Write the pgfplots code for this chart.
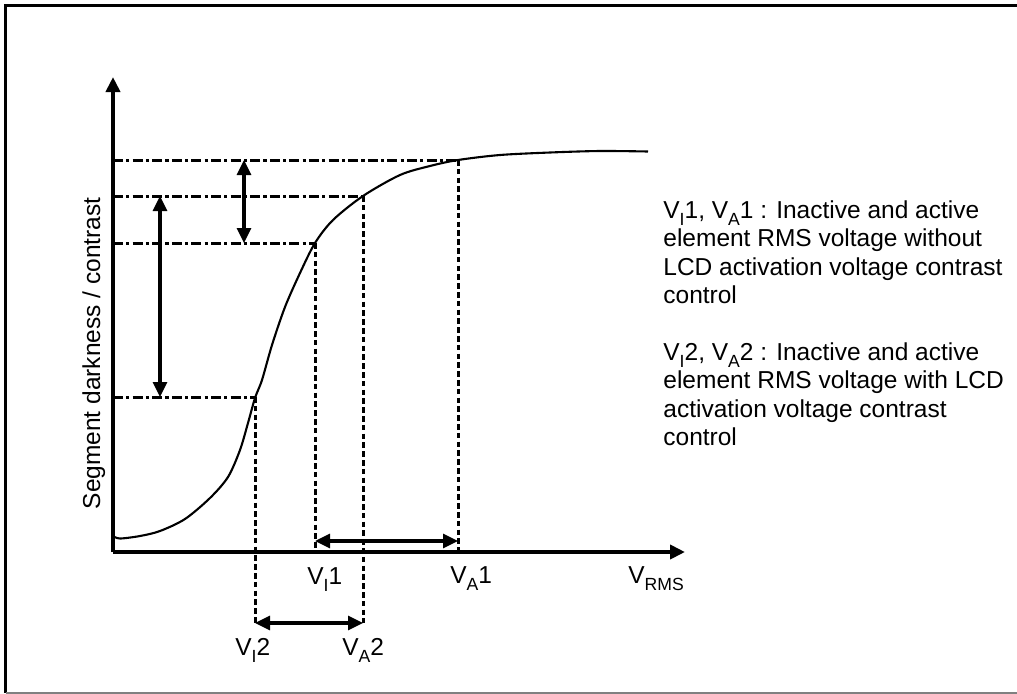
\documentclass[border=0pt]{standalone}
\usepackage{fontspec}
\setmainfont{Liberation Sans}
\usepackage{pgfplots}
\pgfplotsset{compat=1.18}
\usetikzlibrary{arrows.meta}
\newcommand\lbl{\fontsize{12.25}{14.25}\selectfont}
\newcommand\sub[1]{\raisebox{-3.6pt}{\fontsize{8.8}{9}\selectfont #1}}
\begin{document}
\begin{tikzpicture}
\begin{axis}[
  scale only axis, width=508.5pt, height=346.5pt,
  xmin=-113, xmax=904, ymin=-141, ymax=552,
  hide axis, clip=false,
  dd/.style={black, line width=1.5pt, dash pattern=on 5pt off 1.6pt on 1.6pt off 1.6pt},
  dsh/.style={black, line width=1.5pt, dash pattern=on 2.8pt off 1.6pt},
  arr/.style={black, line width=1.6pt, {Triangle[length=7.5pt,width=7pt]}-{Triangle[length=7.5pt,width=7pt]}},
]
% frame
\addplot[black, line width=1.6pt, line join=miter] coordinates {(904,546.5) (-107.5,546.5) (-107.5,-140.5)};
\addplot[gray, line width=1pt] coordinates {(-107.5,-140.5) (904,-140.5)};
% guide lines (dash-dot horizontals)
\addplot[dd] coordinates {(0,392) (345,392)};
\addplot[dd] coordinates {(0,356) (250,356)};
\addplot[dd] coordinates {(0,309) (202,309)};
\addplot[dd] coordinates {(0,155) (142,155)};
% dashed verticals
\addplot[dsh] coordinates {(345,392) (345,0)};
\addplot[dsh] coordinates {(202,309) (202,0)};
\addplot[dsh] coordinates {(250,356) (250,-71)};
\addplot[dsh] coordinates {(142,155) (142,-71)};
% curve
\addplot[black, line width=1.05pt, smooth, tension=0.5] coordinates {
(0,16) (7,13.5) (27,16) (47,21) (72,33) (97,54) (115,75) (127,102) (135,129)
(142,154) (149,172) (159,207) (172,245) (187,279) (202,309) (220,332) (250,356)
(287,377) (317,386) (345,392) (387,397) (437,399.5) (487,401) (535,400.5)};
% axes
\addplot[black, line width=2pt, -{Triangle[length=7.5pt,width=7pt]}] coordinates {(0,0) (572,0)};
\addplot[black, line width=2pt, -{Triangle[length=7.5pt,width=7pt]}] coordinates {(0,0) (0,475)};
% double arrows
\addplot[arr] coordinates {(131,392) (131,309)};
\addplot[arr] coordinates {(47,356) (47,155)};
\addplot[arr] coordinates {(202,11) (345,11)};
\addplot[arr] coordinates {(142,-71) (250,-71)};
% labels
\node[anchor=base west, inner sep=0pt, font=\lbl] at (axis cs:194,-32) {V\sub{I}1};
\node[anchor=base west, inner sep=0pt, font=\lbl] at (axis cs:337,-31) {V\sub{A}1};
\node[anchor=base west, inner sep=0pt, font=\lbl] at (axis cs:515,-31) {V\sub{RMS}};
\node[anchor=base west, inner sep=0pt, font=\lbl] at (axis cs:122,-103) {V\sub{I}2};
\node[anchor=base west, inner sep=0pt, font=\lbl] at (axis cs:229,-103) {V\sub{A}2};
\node[anchor=base east, inner sep=0pt, rotate=90, font=\lbl] at (axis cs:-13,355) {Segment darkness / contrast};
% explanatory text
\node[anchor=base west, inner sep=0pt, font=\lbl] at (axis cs:550,334) {V\sub{I}1, V\sub{A}1 : Inactive and active};
\node[anchor=base west, inner sep=0pt, font=\lbl] at (axis cs:550,305.5) {element RMS voltage without};
\node[anchor=base west, inner sep=0pt, font=\lbl] at (axis cs:550,277) {LCD activation voltage contrast};
\node[anchor=base west, inner sep=0pt, font=\lbl] at (axis cs:550,248.5) {control};
\node[anchor=base west, inner sep=0pt, font=\lbl] at (axis cs:550,192) {V\sub{I}2, V\sub{A}2 : Inactive and active};
\node[anchor=base west, inner sep=0pt, font=\lbl] at (axis cs:550,163.5) {element RMS voltage with LCD};
\node[anchor=base west, inner sep=0pt, font=\lbl] at (axis cs:550,135) {activation voltage contrast};
\node[anchor=base west, inner sep=0pt, font=\lbl] at (axis cs:550,106.5) {control};
\coordinate (bl) at (axis cs:-113,-141);
\coordinate (tr) at (axis cs:904,552);
\end{axis}
\pgfresetboundingbox
\path (bl) rectangle (tr);
\end{tikzpicture}
\end{document}
